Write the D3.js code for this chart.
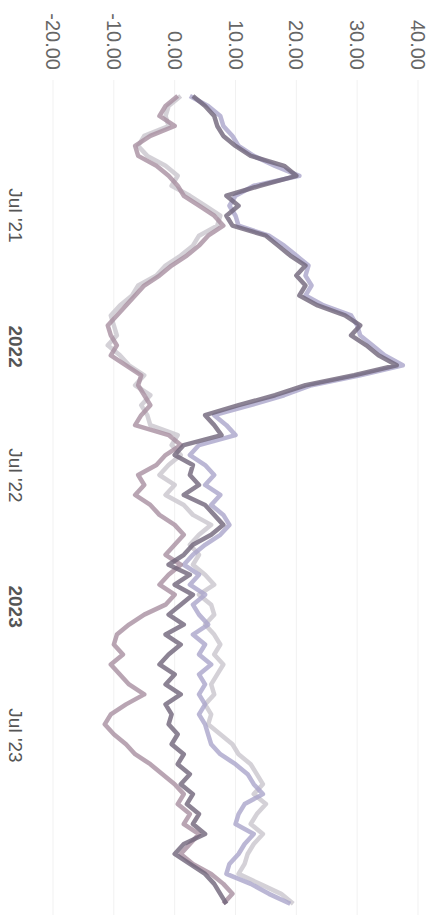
<!DOCTYPE html>
<html>
<head>
<meta charset="utf-8">
<script src="https://cdn.jsdelivr.net/npm/d3@7"></script>
<style>
  body { margin: 0; background: #fff; }
  svg { display: block; }
</style>
</head>
<body>
<div id="chart"></div>
<script>
// chart is drawn landscape and turned a quarter turn clockwise
var W = 915, H = 436;

// value ticks
var valueTicks = [-20, -10, 0, 10, 20, 30, 40];

// time ticks
var timeTicks = [new Date(2021, 6, 1), new Date(2022, 0, 1), new Date(2022, 6, 1), new Date(2023, 0, 1), new Date(2023, 6, 1)];
var timeLabels = ["Jul '21", "2022", "Jul '22", "2023", "Jul '23"];

// samples every two weeks starting here
var startDate = new Date(2021, 0, 15);
var stepDays = 14;

var seriesA = [3,5,6.5,7,8,10,12.5,18,20,14,8.5,10.5,8.5,9.5,15,17,19,21.5,20,21.5,20.5,23.5,28,30.5,29,31.5,33.5,36.5,29.5,21.5,16.5,10.5,5,6.5,7.7,1.5,0,3,2.5,4,1.5,5,6.5,8,6,3,1.5,-1,2.5,0,3,1,-1,1.5,-1.5,1,-1,-2.5,0,-1.5,1,-1.5,-0.5,-1,0.5,-0.5,1.5,0.5,2.5,1,3,2,4,3,5,1.5,0,2.5,5,6.5,7.5,8.5];
var seriesB = [0.5,-1.5,-2.5,0,-4,-6.5,-6,-3,-1,0.5,1.5,4,6.5,8,5.5,4,2,-0.5,-2.5,-5,-6.5,-8,-9.5,-11,-10.5,-9.5,-10.5,-8,-5.5,-6,-5,-4,-5.5,-6.5,-1,1,-1.5,-3,-6,-5,-6.5,-4,-2.5,0,1.5,0,-1.5,1,-1,-2.5,0,-1.5,-5,-7.5,-9.5,-10,-8.5,-10.5,-9,-7.5,-5,-8,-10.5,-11.5,-10,-8,-6.5,-4,-2,0,1.5,0.5,2.5,1.5,4,2.5,1,3,6,8,9.5,8];
var seriesC = [2.5,5.5,7.5,8,9.5,10.5,13,16.5,20.5,13,10,9,10,10.5,15.5,18,20,22,21.5,22.5,21.5,24.5,29,30,30.5,32.5,34.5,37.5,30.5,22.5,18,12.5,6.5,8.5,10,4,2.5,5,6.5,5,7.5,6,8,9,7.5,5,3,1.5,4,2.5,5,3,4,5.5,3,5,4,6,4,5,4,5,4,5,5.5,6,7.5,10,12,13,14.5,11.5,10.5,10,13,11.5,10.5,9,8.5,12.5,15.5,19];
var seriesD = [1,-1,-1.5,-1,-5,-6,-4.5,-1.5,0.5,-0.5,2.5,5,7.5,7,4,3,1,-1.5,-3,-6,-7,-9,-10.5,-10,-9.5,-11,-9,-7.5,-5,-6.5,-4,-5.5,-4.5,-4,0.5,-0.5,1,-1,-2.5,0,-1.5,1.5,3,6,4,2.5,4,3,5,6.5,4,6,6.5,5,6.5,7.5,6.5,8,7,6,6.5,5,6,5.5,7.5,9.5,10.5,12.5,13.5,14.5,13,15,13.5,12.5,14.5,13,12,11.5,10.5,14,17.5,19.5];

var seriesColors = ["#c9c5cd", "#aaa5cb", "#a88ea0", "#6f6479"];

var svg = d3.select("#chart")
  .append("svg")
  .attr("width", H)
  .attr("height", W);

var g = svg.append("g")
  .attr("transform", "translate(" + H + ",0) rotate(90)");

var x = d3.scaleTime()
  .domain([timeTicks[0], timeTicks[4]])
  .range([215, 735]);

var y = d3.scaleLinear()
  .domain([-20, 40])
  .range([383, 18]);

// faint grid
g.append("g")
  .selectAll("line")
  .data(valueTicks)
  .join("line")
  .attr("x1", 80)
  .attr("x2", W)
  .attr("y1", function(d) { return y(d); })
  .attr("y2", function(d) { return y(d); })
  .attr("stroke", "#f1f1f1")
  .attr("stroke-width", 1);

var fmt = d3.format(".2f");
var yAxis = g.append("g")
  .attr("transform", "translate(76,0)")
  .call(d3.axisLeft(y).tickValues(valueTicks).tickSize(0).tickPadding(6)
    .tickFormat(function(d) { return fmt(d).replace("\u2212", "-"); }));
yAxis.select(".domain").remove();
yAxis.selectAll("text")
  .attr("font-family", "Liberation Sans, Arial, sans-serif")
  .attr("font-size", 20)
  .attr("fill", "#666");

var xAxis = g.append("g")
  .attr("transform", "translate(0,394)")
  .call(d3.axisBottom(x).tickValues(timeTicks).tickSize(0).tickPadding(20)
    .tickFormat(function(d, i) { return timeLabels[i]; }));
xAxis.select(".domain").remove();
xAxis.selectAll("text")
  .attr("font-family", "Liberation Sans, Arial, sans-serif")
  .attr("font-size", 19)
  .attr("fill", "#555")
  .attr("font-weight", function(d) { return d.getMonth() === 0 ? "bold" : "normal"; });

function toPoints(values) {
  return values.map(function(v, i) {
    return { date: d3.timeDay.offset(startDate, i * stepDays), value: v };
  });
}

var line = d3.line()
  .x(function(d) { return x(d.date); })
  .y(function(d) { return y(d.value); });

var allSeries = [seriesD, seriesC, seriesB, seriesA];

g.append("g")
  .selectAll("path")
  .data(allSeries)
  .join("path")
  .attr("d", function(d) { return line(toPoints(d)); })
  .attr("fill", "none")
  .attr("stroke", function(d, i) { return seriesColors[i]; })
  .attr("stroke-width", 4.5)
  .attr("stroke-linejoin", "round")
  .attr("opacity", 0.8);
</script>
</body>
</html>
